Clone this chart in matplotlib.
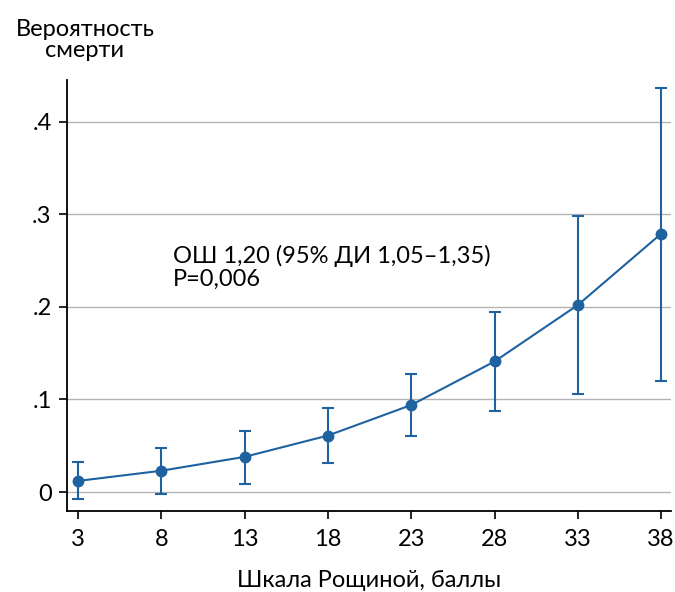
import numpy as np
import matplotlib
matplotlib.use("Agg")
import matplotlib.pyplot as plt

plt.rcParams['font.family'] = ['Lato', 'DejaVu Sans']

# values
scores = [3, 8, 13, 18, 23, 28, 33, 38]
prob = [0.012, 0.023, 0.038, 0.061, 0.094, 0.141, 0.202, 0.279]
ci_low = [-0.008, -0.002, 0.009, 0.031, 0.061, 0.088, 0.106, 0.120]
ci_high = [0.032, 0.048, 0.066, 0.091, 0.128, 0.194, 0.298, 0.436]
yticks = [0, 0.1, 0.2, 0.3, 0.4]
ytick_labels = ['0', '.1', '.2', '.3', '.4']

color = '#1e62a0'
fs = 17

fig = plt.figure(figsize=(6.75, 5.92), dpi=100)
ax = fig.add_axes([0.0993, 0.1368, 0.895, 0.728])

prob = np.array(prob)
yerr = [prob - np.array(ci_low), np.array(ci_high) - prob]
ax.errorbar(scores, prob, yerr=yerr, color=color, lw=1.5, marker='o',
            markersize=7.5, capsize=4, capthick=1.5, elinewidth=1.5, zorder=3)

ax.set_xlim(2.34, 38.6)
ax.set_ylim(-0.0205, 0.445)
ax.set_xticks(scores)
ax.set_yticks(yticks)
ax.set_yticklabels(ytick_labels)
ax.grid(axis='y', color='#b4b4b4', lw=1)
ax.set_axisbelow(True)

for s in ['top', 'right']:
    ax.spines[s].set_visible(False)
ax.spines['left'].set_linewidth(1.3)
ax.spines['bottom'].set_linewidth(1.3)
ax.tick_params(axis='both', labelsize=fs, width=1.2, length=6, direction='out')
ax.tick_params(axis='x', pad=7)
ax.tick_params(axis='y', pad=5)

ax.text(8.7, 0.267, 'ОШ 1,20 (95% ДИ 1,05–1,35)\nP=0,006', fontsize=fs,
        va='top', ha='left', linespacing=1.1)

fig.text(85 / 675, 1 - 40 / 592, 'Вероятность\nсмерти', fontsize=fs,
         ha='center', va='center', linespacing=1.0)
ax.set_xlabel('Шкала Рощиной, баллы', fontsize=fs, labelpad=14)

fig.savefig('out.png', dpi=100)
